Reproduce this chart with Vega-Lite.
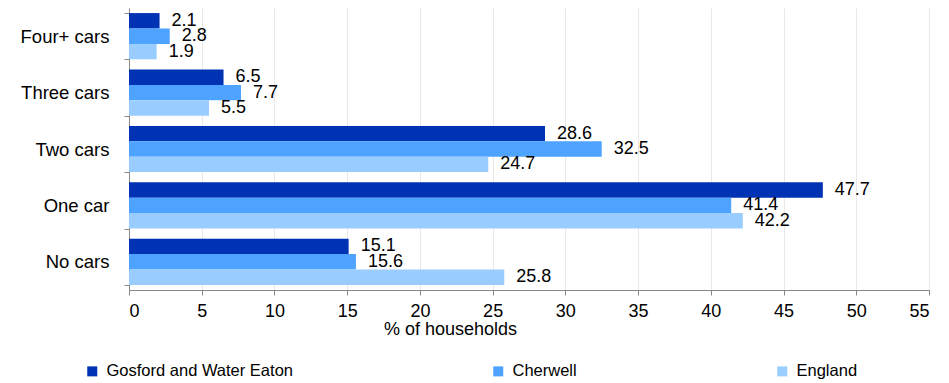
{
  "$schema": "https://vega.github.io/schema/vega-lite/v6.json",
  "width": 800,
  "height": 282,
  "autosize": {"type": "none"},
  "padding": {"left": 129, "top": 8, "right": 20, "bottom": 93},
  "config": {
    "font": "Liberation Sans",
    "view": {"stroke": null},
    "axis": {"labelFont": "Liberation Sans", "titleFont": "Liberation Sans"},
    "legend": {"labelFont": "Liberation Sans"}
  },
  "data": {
    "values": [
      {"cat": "Four+ cars", "area": "Gosford and Water Eaton", "v": 2.1},
      {"cat": "Four+ cars", "area": "Cherwell", "v": 2.8},
      {"cat": "Four+ cars", "area": "England", "v": 1.9},
      {"cat": "Three cars", "area": "Gosford and Water Eaton", "v": 6.5},
      {"cat": "Three cars", "area": "Cherwell", "v": 7.7},
      {"cat": "Three cars", "area": "England", "v": 5.5},
      {"cat": "Two cars", "area": "Gosford and Water Eaton", "v": 28.6},
      {"cat": "Two cars", "area": "Cherwell", "v": 32.5},
      {"cat": "Two cars", "area": "England", "v": 24.7},
      {"cat": "One car", "area": "Gosford and Water Eaton", "v": 47.7},
      {"cat": "One car", "area": "Cherwell", "v": 41.4},
      {"cat": "One car", "area": "England", "v": 42.2},
      {"cat": "No cars", "area": "Gosford and Water Eaton", "v": 15.1},
      {"cat": "No cars", "area": "Cherwell", "v": 15.6},
      {"cat": "No cars", "area": "England", "v": 25.8}
    ]
  },
  "encoding": {
    "y": {
      "field": "cat",
      "type": "nominal",
      "sort": ["Four+ cars", "Three cars", "Two cars", "One car", "No cars"],
      "scale": {"paddingInner": 0.18, "paddingOuter": 0.09},
      "axis": {
        "title": null,
        "domainColor": "#888888",
        "tickColor": "#888888",
        "tickSize": 5,
        "tickBand": "extent",
        "labelFontSize": 18.5,
        "labelColor": "#000000",
        "labelPadding": 15,
        "labelLimit": 300,
        "grid": false
      }
    },
    "yOffset": {
      "field": "area",
      "type": "nominal",
      "sort": ["Gosford and Water Eaton", "Cherwell", "England"]
    },
    "x": {
      "field": "v",
      "type": "quantitative",
      "scale": {"domain": [0, 55], "nice": false},
      "axis": {
        "title": "% of households",
        "values": [0, 5, 10, 15, 20, 25, 30, 35, 40, 45, 50, 55],
        "domainColor": "#888888",
        "tickColor": "#888888",
        "tickSize": 5,
        "gridColor": "#e8e8e8",
        "labelFontSize": 18,
        "labelColor": "#000000",
        "labelPadding": 7,
        "titleFontSize": 18,
        "titleFontWeight": "normal",
        "titleColor": "#000000",
        "titleX": 321,
        "titleY": 39,
        "titleBaseline": "middle"
      }
    }
  },
  "layer": [
    {
      "mark": {"type": "bar"},
      "encoding": {
        "color": {
          "field": "area",
          "type": "nominal",
          "sort": ["Gosford and Water Eaton", "Cherwell", "England"],
          "scale": {
            "domain": ["Gosford and Water Eaton", "Cherwell", "England"],
            "range": ["#0032b4", "#4da3ff", "#99ccff"]
          },
          "legend": {
            "title": null,
            "orient": "none",
            "legendX": -45,
            "legendY": 355,
            "direction": "horizontal",
            "columns": 3,
            "columnPadding": 197,
            "symbolType": "square",
            "symbolSize": 100,
            "symbolStrokeWidth": 0,
            "labelFontSize": 16.5,
            "labelLimit": 400,
            "labelColor": "#000000",
            "labelOffset": 6
          }
        }
      }
    },
    {
      "mark": {"type": "text", "align": "left", "baseline": "middle", "dx": 12, "fontSize": 18, "color": "#000000"},
      "encoding": {
        "text": {"field": "v", "type": "quantitative", "format": ".1f"}
      }
    }
  ]
}
